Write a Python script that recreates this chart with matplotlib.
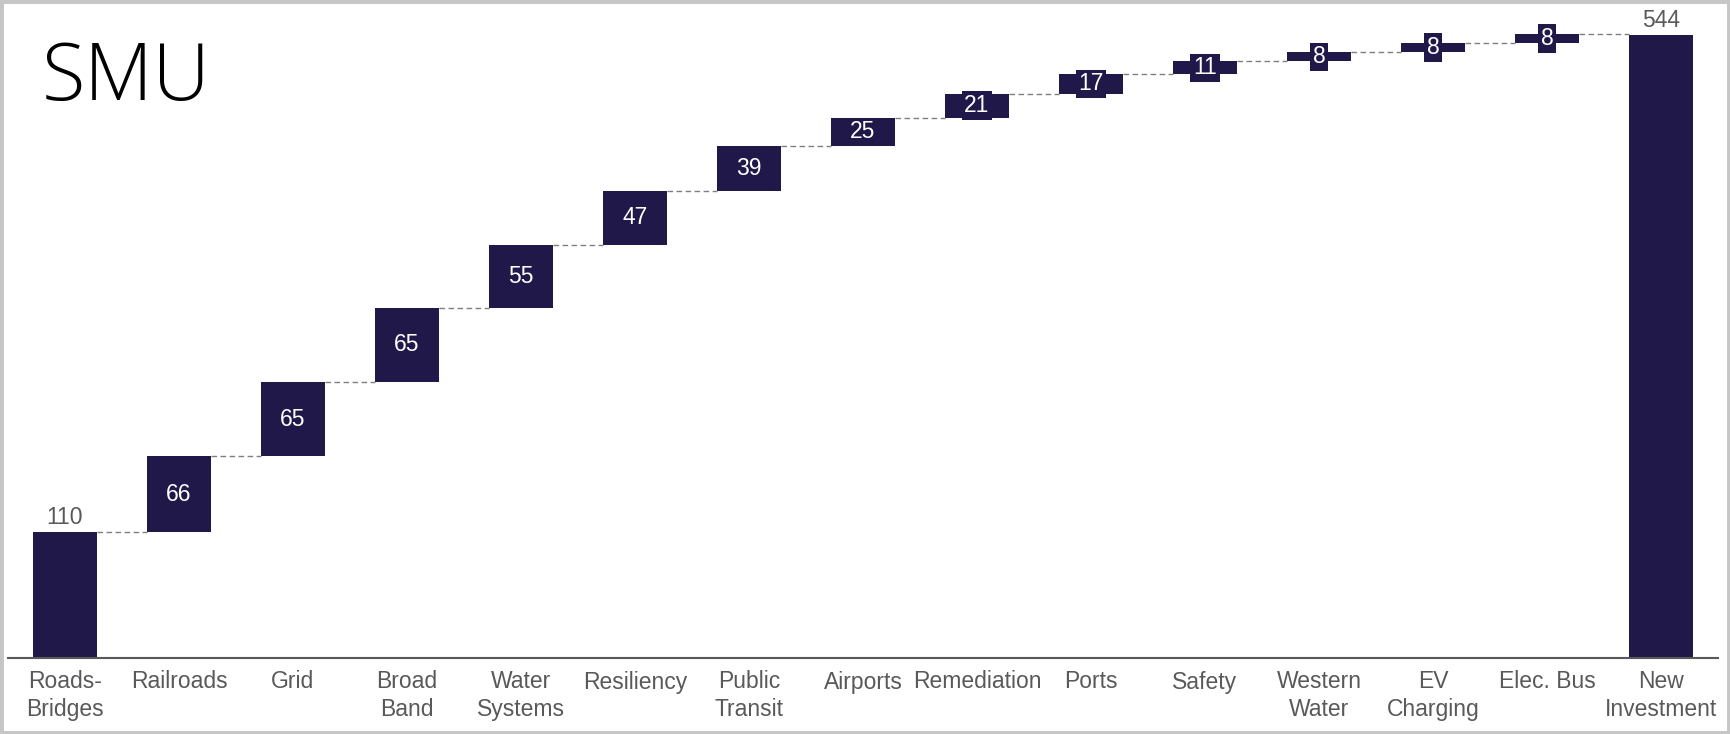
import numpy as np
import matplotlib.pyplot as plt
from matplotlib.patches import Rectangle

categorias = ['Roads-\nBridges', 'Railroads', 'Grid', 'Broad\nBand', 'Water\nSystems',
              'Resiliency', 'Public\nTransit', 'Airports', 'Remediation', 'Ports',
              'Safety', 'Western\nWater', 'EV\nCharging', 'Elec. Bus', 'New\nInvestment']
incrementos = [110, 66, 65, 65, 55, 47, 39, 25, 21, 17, 11, 8, 8, 8]
total = 544

color_barra = '#201848'
color_gris = '#595959'

plt.rcParams['font.family'] = ['Liberation Sans', 'DejaVu Sans']

fig = plt.figure(figsize=(17.3, 7.34), dpi=100)
ax = fig.add_axes([8 / 1730, 76 / 734, 1710 / 1730, 650 / 734])

x = np.arange(len(categorias))
ancho = 0.56
acumulado = np.cumsum(incrementos)
bases = np.concatenate([[0], acumulado[:-1]])

# primera barra y total desde cero, el resto flotantes
alturas = list(incrementos) + [total]
inicios = list(bases) + [0]
ax.bar(x, alturas, bottom=inicios, width=ancho, color=color_barra)

# lineas de conexion
niveles = list(acumulado)
for i in range(len(incrementos)):
    ax.plot([x[i] + ancho / 2, x[i + 1] - ancho / 2], [niveles[i], niveles[i]],
            color='#7f7f7f', lw=1, ls=(0, (4, 2.5)), zorder=1)

# etiquetas de valores
fs = 16.5
ax.text(x[0], incrementos[0] + 3, str(incrementos[0]), ha='center', va='bottom',
        fontsize=fs, color=color_gris)
for i in range(1, len(incrementos)):
    ax.text(x[i], bases[i] + incrementos[i] / 2, str(incrementos[i]), ha='center',
            va='center', fontsize=fs, color='white', zorder=3,
            bbox=dict(boxstyle='square,pad=0.12', fc=color_barra, ec='none'))
ax.text(x[-1], total + 3, str(total), ha='center', va='bottom', fontsize=fs, color=color_gris)

ax.set_xlim(-0.5, len(categorias) - 0.5)
ax.set_ylim(0, 650 / 1.145)
ax.set_xticks(x)
ax.set_xticklabels(categorias, fontsize=fs, color=color_gris, linespacing=1.25)
ax.tick_params(axis='x', length=0, pad=9)
ax.set_yticks([])
for lado in ['top', 'right', 'left']:
    ax.spines[lado].set_visible(False)
ax.spines['bottom'].set_color(color_gris)
ax.spines['bottom'].set_linewidth(1.5)

fig.text(42 / 1730, 1 - 100 / 734, 'SMU', fontsize=57, fontfamily=['Open Sans', 'DejaVu Sans'],
         fontweight='light', color='black', va='baseline', ha='left')

fig.patches.append(Rectangle((0, 0), 1, 1, transform=fig.transFigure, fill=False,
                             ec='#c6c6c6', lw=5, zorder=10))

fig.savefig('out.png', dpi=100)
